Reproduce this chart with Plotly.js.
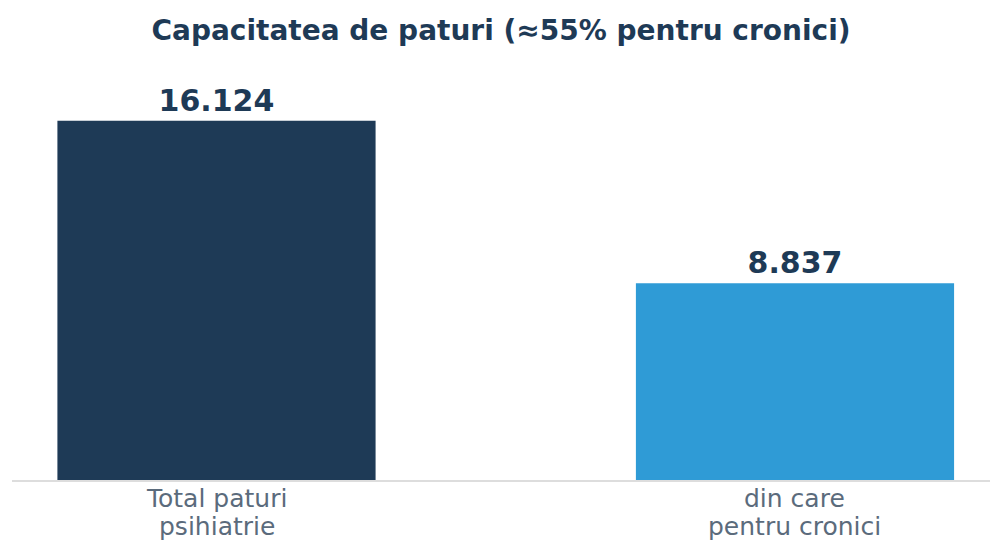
<!DOCTYPE html>
<html>
<head>
<meta charset="utf-8">
<script src="https://cdn.plot.ly/plotly-3.0.1.min.js"></script>
<style>html,body{margin:0;padding:0;background:#fff;}#chart{width:990px;height:540px;}</style>
</head>
<body>
<div id="chart"></div>
<script>
const categories = ["Total paturi<br>psihiatrie", "din care<br>pentru cronici"];
const values = [16124, 8837];
const valueLabels = ["16.124", "8.837"];
const barColors = ["#1e3a56", "#2f9bd6"];

const positions = categories.map((c, i) => i);

const trace = {
  type: "bar",
  x: positions,
  y: values,
  width: 0.55,
  marker: {color: barColors, line: {width: 0}},
  text: valueLabels,
  textposition: "outside",
  cliponaxis: false,
  textfont: {family: "DejaVu Sans", size: 30, color: "#1e3a56", weight: "bold"},
  hoverinfo: "skip"
};

// category labels as two tightly spaced lines under each bar
const annotations = [];
const lineY = [-(498 - 480) / 401, -(526 - 480) / 401];
categories.forEach((c, i) => {
  c.split("<br>").forEach((line, j) => {
    annotations.push({
      text: line, x: positions[i], xref: "x", y: lineY[j], yref: "paper",
      xanchor: "center", yanchor: "middle", showarrow: false,
      font: {family: "DejaVu Sans", size: 25, color: "#5b6b7c"}
    });
  });
});

const layout = {
  width: 990, height: 540,
  margin: {l: 12, r: 0, t: 79, b: 60},
  paper_bgcolor: "#ffffff", plot_bgcolor: "#ffffff",
  showlegend: false,
  title: {
    text: "<b>Capacitatea de paturi (≈55% pentru cronici)</b>",
    font: {family: "DejaVu Sans", size: 28, color: "#1e3a56"},
    x: 0.5, xanchor: "center", xref: "paper",
    y: 1 - 30/540, yref: "container", yanchor: "middle"
  },
  xaxis: {
    range: [-0.3535, 1.3371],
    tickmode: "array", tickvals: positions,
    showticklabels: false,
    showgrid: false, zeroline: false,
    showline: true, linecolor: "#dddddd", linewidth: 2,
    ticks: ""
  },
  yaxis: {
    range: [0, 18000], visible: false, showgrid: false, zeroline: false
  },
  annotations: annotations
};

Plotly.newPlot("chart", [trace], layout, {displayModeBar: false, staticPlot: true});
</script>
</body>
</html>
